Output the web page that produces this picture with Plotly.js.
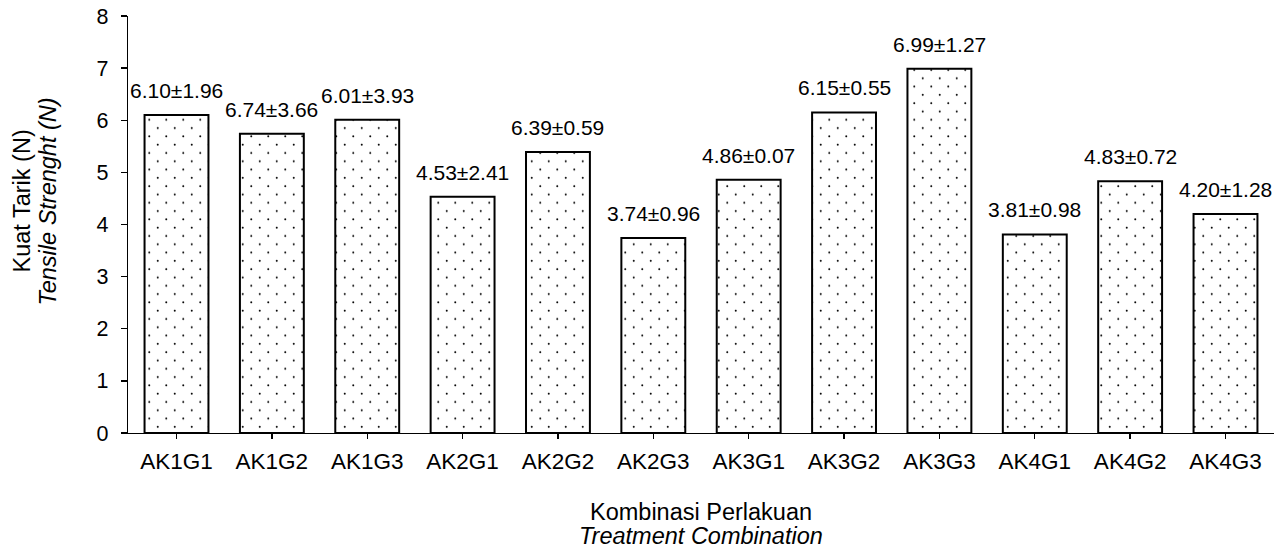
<!DOCTYPE html>
<html>
<head>
<meta charset="utf-8">
<script src="https://cdn.plot.ly/plotly-3.0.1.min.js"></script>
<style>html,body{margin:0;padding:0;background:#fff;}#chart{width:1282px;height:552px;}</style>
</head>
<body>
<div id="chart"></div>
<script>
const categories = ["AK1G1","AK1G2","AK1G3","AK2G1","AK2G2","AK2G3","AK3G1","AK3G2","AK3G3","AK4G1","AK4G2","AK4G3"];
const barValues = [6.10, 5.74, 6.01, 4.53, 5.39, 3.74, 4.86, 6.15, 6.99, 3.81, 4.83, 4.20];
const barLabels = ["6.10±1.96","6.74±3.66","6.01±3.93","4.53±2.41","6.39±0.59","3.74±0.96","4.86±0.07","6.15±0.55","6.99±1.27","3.81±0.98","4.83±0.72","4.20±1.28"];
const yTicks = [0,1,2,3,4,5,6,7,8];
const xTitleLines = ["Kombinasi Perlakuan", "<i>Treatment Combination</i>"];
const yTitleLines = ["Kuat Tarik (N)", "<i>Tensile Strenght (N)</i>"];

const FONT = 'Liberation Sans, Arial, sans-serif';
const titleFont = {family: FONT, size: 23.5, color: '#000'};

const trace = {
  type: 'bar',
  x: categories,
  y: barValues,
  hoverinfo: 'none',
  marker: {
    color: '#fff',
    line: {color: '#000', width: 2},
    pattern: {shape: '.', fgcolor: '#000', bgcolor: '#fff', size: 8.5, solidity: 0.03}
  }
};

const annotations = categories.map((c, i) => ({
  x: c, y: barValues[i], xref: 'x', yref: 'y',
  text: barLabels[i], showarrow: false,
  xanchor: 'center', yanchor: 'bottom', yshift: 11,
  font: {family: FONT, size: 21, color: '#000'}
}));

// axis titles as annotations (tighter line spacing like the reference)
annotations.push(
  {xref: 'paper', yref: 'paper', x: 0.5, y: 0, xanchor: 'center', yanchor: 'middle', yshift: -79, showarrow: false, text: xTitleLines[0], font: titleFont},
  {xref: 'paper', yref: 'paper', x: 0.5, y: 0, xanchor: 'center', yanchor: 'middle', yshift: -103, showarrow: false, text: xTitleLines[1], font: titleFont},
  {xref: 'paper', yref: 'paper', x: 0, y: 0.5, xanchor: 'center', yanchor: 'middle', xshift: -107, yshift: 23, textangle: -90, showarrow: false, text: yTitleLines[0], font: titleFont},
  {xref: 'paper', yref: 'paper', x: 0, y: 0.5, xanchor: 'center', yanchor: 'middle', xshift: -81, yshift: 23, textangle: -90, showarrow: false, text: yTitleLines[1], font: titleFont}
);

const layout = {
  width: 1282, height: 552,
  margin: {l: 128, r: 8, t: 16, b: 119},
  paper_bgcolor: '#fff', plot_bgcolor: '#fff',
  bargap: 0.33,
  showlegend: false,
  font: {family: FONT, size: 21, color: '#000'},
  annotations: annotations,
  xaxis: {
    type: 'category',
    showline: true, linecolor: '#000', linewidth: 1.3,
    ticks: 'outside', ticklen: 5, tickcolor: '#000', tickwidth: 1.3,
    ticklabelstandoff: 3,
    tickfont: {family: FONT, size: 22.5, color: '#000'},
    showgrid: false, zeroline: false
  },
  yaxis: {
    range: [0, 8],
    tickvals: yTicks,
    showline: true, linecolor: '#000', linewidth: 1.3,
    ticks: 'outside', ticklen: 6, tickcolor: '#000', tickwidth: 1.3,
    ticklabelstandoff: 8,
    tickfont: {family: FONT, size: 21.5, color: '#000'},
    showgrid: false, zeroline: false
  }
};

Plotly.newPlot('chart', [trace], layout, {displayModeBar: false, staticPlot: true}).then(function () {
  // turn the square dot tile into a staggered (half-drop) dot tile
  document.querySelectorAll('#chart pattern').forEach(function (p) {
    const c = p.querySelector('circle');
    if (!c) return;
    const w = 17, h = 16.6;
    p.setAttribute('width', w);
    p.setAttribute('height', h);
    c.setAttribute('cx', w / 4);
    c.setAttribute('cy', h / 4);
    c.setAttribute('r', 1.0);
    const c2 = c.cloneNode(true);
    c2.setAttribute('cx', 3 * w / 4);
    c2.setAttribute('cy', 3 * h / 4);
    c.parentNode.appendChild(c2);
    const bg = p.querySelector('rect');
    if (bg) { bg.setAttribute('width', w); bg.setAttribute('height', h); }
  });
});
</script>
</body>
</html>
